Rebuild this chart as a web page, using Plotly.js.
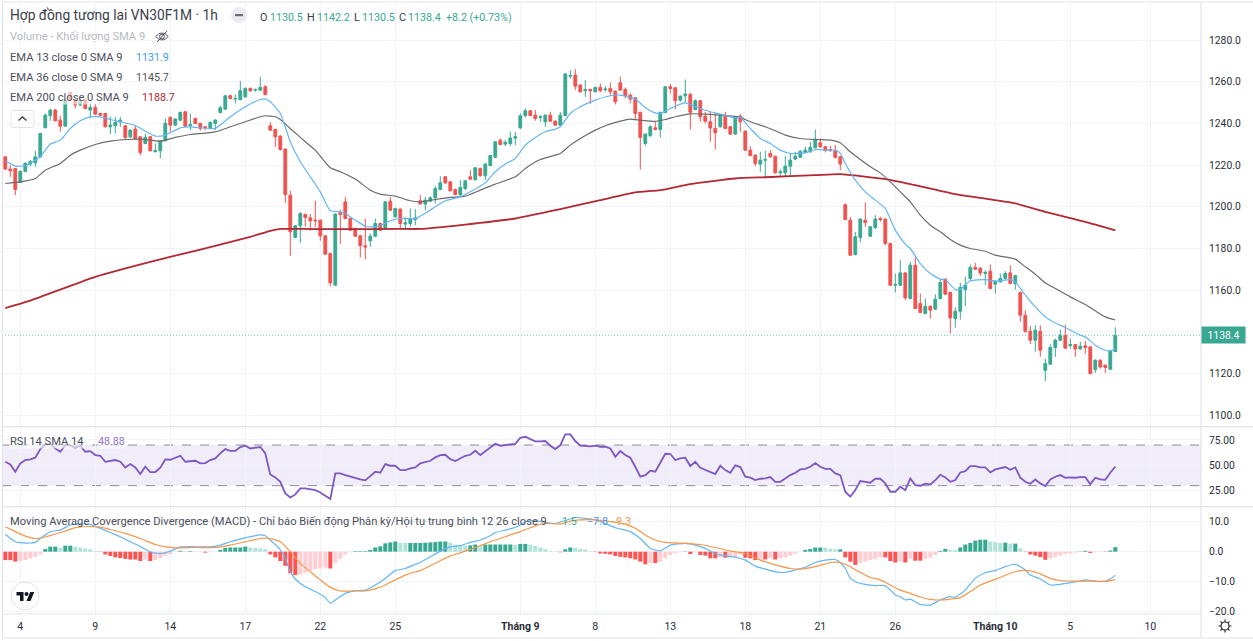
<!DOCTYPE html>
<html><head><meta charset="utf-8">
<script src="https://cdn.plot.ly/plotly-3.0.1.min.js"></script>
<style>html,body{margin:0;padding:0;background:#fff}#c{width:1253px;height:641px}</style>
</head><body><div id="c"></div>
<script>
const opens=[1224.0,1218.1,1218.4,1211.7,1217.0,1220.5,1221.1,1224.0,1237.9,1243.7,1246.4,1241.6,1238.7,1254.9,1251.5,1248.8,1251.5,1246.4,1247.7,1244.8,
1244.8,1238.4,1238.9,1240.8,1238.9,1233.6,1237.3,1233.6,1230.4,1233.6,1226.4,1226.9,1231.7,1242.9,1239.2,1241.6,1245.6,1239.0,1242.4,1240.0,
1238.4,1237.6,1240.0,1245.3,1246.9,1253.3,1251.7,1251.5,1252.8,1256.8,1256.0,1256.0,1257.6,1238.9,1237.1,1233.9,1227.7,1205.6,1185.3,1190.9,
1196.3,1194.7,1193.6,1193.6,1186.1,1177.6,1162.4,1197.1,1202.4,1194.4,1189.6,1186.1,1181.3,1183.7,1185.9,1192.0,1189.6,1202.7,1195.2,1198.9,
1191.7,1192.0,1193.9,1202.9,1201.3,1202.7,1204.3,1208.3,1214.4,1212.0,1208.3,1205.9,1208.8,1214.4,1213.1,1218.4,1214.9,1219.8,1223.8,1232.0,
1230.1,1230.4,1233.0,1237.9,1243.8,1246.1,1244.0,1242.9,1240.8,1244.0,1241.1,1239.2,1243.8,1262.7,1263.2,1258.4,1255.7,1256.3,1255.2,1257.3,
1256.2,1256.8,1255.5,1259.5,1256.3,1253.6,1252.3,1245.3,1230.4,1234.1,1237.9,1237.1,1245.3,1257.6,1257.1,1251.2,1253.3,1253.9,1246.7,1250.9,
1243.5,1240.8,1237.6,1238.4,1244.0,1238.4,1234.9,1243.5,1236.3,1227.2,1224.8,1220.5,1222.4,1225.6,1224.2,1216.3,1216.3,1219.5,1222.9,1223.8,
1226.2,1226.4,1228.3,1230.7,1228.8,1227.5,1226.9,1224.0,1201.0,1193.6,1177.1,1185.3,1193.6,1185.9,1190.1,1194.4,1194.1,1182.4,1162.4,1162.4,
1168.3,1156.0,1172.0,1153.6,1148.8,1152.3,1150.9,1156.0,1165.3,1158.9,1146.4,1149.9,1160.3,1165.6,1170.9,1170.4,1168.0,1169.1,1162.9,1164.0,
1165.6,1168.3,1163.2,1158.9,1148.0,1140.3,1136.0,1140.3,1121.6,1124.5,1132.5,1136.0,1138.4,1133.4,1133.9,1131.8,1133.3,1132.8,1121.9,1126.4,
1124.0,1122.1,1130.5];
const highs=[1224.0,1220.0,1218.4,1217.1,1221.5,1222.5,1226.9,1235.5,1244.8,1247.2,1247.0,1243.7,1252.0,1255.2,1251.8,1252.0,1252.0,1249.6,1249.3,1245.2,
1245.0,1243.2,1243.2,1243.2,1239.2,1237.2,1239.2,1234.0,1235.0,1234.0,1230.4,1232.0,1242.4,1243.5,1242.5,1245.7,1246.0,1244.8,1242.8,1240.4,
1238.8,1241.0,1242.1,1248.5,1253.7,1253.8,1253.9,1260.3,1257.3,1257.3,1256.8,1262.4,1258.4,1240.8,1237.5,1234.3,1228.0,1207.7,1191.3,1197.4,
1196.8,1196.5,1202.9,1194.0,1186.5,1178.0,1196.9,1198.7,1204.8,1194.8,1190.0,1186.5,1194.4,1187.2,1194.4,1192.4,1202.8,1204.8,1199.6,1199.3,
1195.2,1199.2,1198.9,1205.6,1204.8,1205.1,1210.1,1214.7,1214.8,1212.4,1208.7,1212.8,1212.9,1217.6,1219.1,1218.8,1220.9,1225.0,1231.6,1232.8,
1232.0,1236.0,1236.0,1244.8,1247.2,1246.5,1246.4,1244.0,1244.4,1245.6,1241.5,1245.6,1264.1,1265.6,1266.1,1258.8,1260.8,1256.7,1257.7,1259.2,
1257.9,1259.7,1255.9,1262.4,1257.3,1254.4,1252.7,1245.7,1235.3,1239.2,1240.8,1245.7,1258.0,1258.9,1257.5,1253.5,1261.1,1254.7,1251.5,1251.3,
1245.6,1245.6,1245.1,1244.4,1245.6,1238.8,1243.6,1244.5,1236.7,1229.1,1225.2,1226.4,1226.9,1227.2,1224.6,1217.9,1224.3,1225.6,1226.4,1227.2,
1228.8,1231.2,1237.1,1232.8,1229.2,1229.3,1229.6,1224.4,1201.6,1195.2,1188.0,1194.5,1202.1,1190.8,1196.0,1195.2,1194.5,1182.8,1168.0,1174.4,
1168.7,1173.6,1175.7,1158.4,1156.0,1152.7,1158.1,1165.3,1165.7,1159.3,1151.7,1163.5,1166.4,1172.3,1173.1,1171.2,1169.6,1172.3,1164.7,1168.0,
1169.1,1172.0,1167.4,1159.3,1150.4,1142.7,1143.2,1143.2,1127.2,1134.1,1136.8,1141.1,1143.5,1136.8,1134.3,1135.2,1135.7,1133.2,1126.8,1126.9,
1124.4,1131.3,1142.2];
const lows=[1217.6,1214.4,1205.6,1211.7,1216.5,1219.5,1219.2,1223.5,1237.9,1241.3,1241.0,1236.0,1238.5,1251.0,1247.2,1248.5,1246.8,1242.4,1244.0,1243.5,
1238.0,1234.9,1235.2,1238.4,1232.5,1233.0,1232.5,1224.8,1230.0,1226.5,1226.2,1223.2,1231.5,1236.0,1238.8,1241.0,1238.3,1236.8,1239.6,1236.5,
1236.8,1237.2,1236.8,1244.8,1246.5,1251.6,1249.6,1251.0,1252.4,1255.2,1255.2,1255.6,1253.5,1236.4,1228.8,1227.0,1201.9,1176.5,1184.9,1182.7,
1190.4,1188.5,1190.4,1183.7,1177.0,1161.9,1162.0,1182.1,1194.0,1188.4,1185.5,1175.7,1174.7,1180.8,1185.5,1188.4,1189.2,1198.0,1194.8,1189.6,
1188.8,1190.4,1191.2,1201.0,1198.4,1202.3,1201.6,1208.0,1211.1,1207.3,1205.5,1204.8,1208.0,1212.8,1212.5,1214.5,1212.8,1219.4,1223.4,1229.5,
1229.1,1229.1,1229.6,1237.3,1242.9,1243.4,1241.3,1240.8,1238.4,1240.7,1238.8,1238.8,1243.4,1261.6,1256.0,1254.8,1252.8,1249.3,1254.8,1254.9,
1255.2,1253.1,1249.1,1255.6,1252.0,1249.6,1242.1,1217.9,1229.3,1233.7,1236.7,1233.3,1244.9,1254.4,1246.9,1250.4,1249.9,1237.1,1246.3,1240.8,
1240.0,1231.2,1227.5,1238.0,1237.2,1234.5,1234.5,1236.0,1226.8,1224.2,1219.5,1216.8,1214.4,1223.6,1215.9,1214.4,1214.7,1214.4,1222.4,1223.4,
1225.8,1226.0,1228.0,1228.4,1226.1,1226.4,1223.2,1217.6,1193.5,1176.4,1176.7,1182.9,1190.4,1185.5,1189.3,1192.8,1181.6,1162.0,1158.9,1162.0,
1155.2,1155.6,1150.8,1148.9,1148.4,1146.4,1150.5,1155.6,1157.6,1139.2,1142.1,1145.9,1152.3,1164.5,1169.7,1166.9,1162.4,1160.4,1158.4,1163.6,
1165.2,1162.8,1160.3,1144.8,1139.5,1134.1,1130.4,1128.0,1116.5,1124.1,1128.0,1135.6,1131.8,1132.0,1128.0,1131.4,1129.6,1119.6,1120.3,1122.4,
1120.3,1121.7,1130.5];
const closes=[1218.1,1217.3,1208.3,1217.1,1220.8,1221.8,1224.0,1235.2,1244.0,1246.4,1241.3,1238.7,1251.2,1251.5,1248.8,1251.2,1247.2,1247.7,1244.5,1244.0,
1238.4,1239.2,1240.5,1241.6,1233.3,1236.8,1232.8,1226.1,1233.3,1226.9,1227.0,1231.7,1240.0,1239.2,1242.1,1245.3,1238.7,1239.5,1240.0,1237.6,
1237.9,1240.5,1241.6,1247.5,1253.3,1252.0,1252.0,1255.7,1256.8,1255.7,1256.3,1257.3,1253.9,1236.8,1233.6,1227.5,1205.9,1188.0,1190.9,1196.8,
1194.9,1193.3,1193.3,1186.1,1177.3,1163.5,1196.5,1196.3,1194.4,1188.8,1185.9,1181.3,1180.8,1185.9,1192.0,1188.8,1202.4,1198.4,1199.2,1192.0,
1192.3,1194.1,1194.7,1201.4,1203.2,1204.3,1208.8,1211.5,1211.5,1207.7,1205.9,1209.3,1212.5,1213.3,1218.7,1214.9,1220.5,1224.6,1231.2,1229.9,
1231.0,1233.0,1233.6,1243.7,1246.1,1243.8,1242.4,1243.2,1244.0,1241.1,1239.2,1244.0,1263.7,1263.0,1257.9,1255.2,1256.3,1255.7,1257.3,1255.7,
1256.5,1255.2,1250.4,1256.0,1253.3,1251.7,1244.8,1233.3,1234.9,1238.4,1237.1,1245.3,1257.6,1256.8,1250.9,1253.1,1254.1,1245.4,1250.9,1243.2,
1241.1,1237.8,1235.5,1244.0,1237.6,1234.9,1243.2,1240.8,1227.2,1224.6,1220.8,1222.4,1222.7,1224.0,1216.3,1216.8,1219.5,1222.4,1224.3,1226.6,
1227.2,1228.5,1232.5,1228.8,1227.2,1227.0,1223.7,1220.5,1193.9,1176.8,1185.6,1194.1,1192.5,1190.4,1194.1,1193.9,1182.4,1162.4,1162.7,1168.3,
1156.3,1172.0,1151.2,1149.3,1152.3,1150.4,1155.7,1163.7,1158.1,1146.7,1149.9,1161.3,1162.4,1170.9,1170.1,1168.3,1168.5,1160.8,1164.3,1165.6,
1168.0,1163.2,1167.0,1148.0,1140.3,1136.0,1140.8,1131.2,1124.8,1132.5,1136.0,1138.4,1132.2,1133.9,1131.8,1133.1,1132.5,1120.0,1126.4,1123.2,
1122.9,1130.9,1138.4];

const ema13Bars=[0,1,2,4,6,7,9,11,13,15,17,19,21,23,26,28,30,31,32,35,37,42,45,49,51,52,53,55,57,59,61,63,65,67,68,70,72,73,75,77,79,82,85,87,88,91,93,96,98,100,102,104,106,108,110,111,113,115,118,121,123,125,126,128,130,131,133,136,138,141,143,146,147,149,151,153,155,157,160,162,164,166,167,168,170,172,174,176,178,180,181,183,185,187,188,190,191,193,196,198,201,202,204,206,208,210,212,215,216,218,220,221,222];
const ema13=[1221.9,1220.8,1219.5,1219.7,1222.4,1224,1230.1,1232,1237.6,1241.3,1243.2,1243.2,1241.9,1240.8,1239,1236.3,1234,1233.9,1234.4,1237.9,1238.4,1237.6,1243.2,1249.3,1251.5,1251.8,1250.4,1244.8,1231.2,1221.6,1214.4,1207.2,1198.1,1197.6,1196.8,1193.6,1190.7,1190.4,1191,1193.3,1194.4,1194.4,1198.4,1201.6,1202.9,1204.8,1207.2,1211.5,1216.8,1220.5,1223.2,1229.6,1233.3,1236,1237.3,1238.4,1244.8,1248,1251.2,1253.3,1253.6,1252.5,1251.7,1247.7,1245.1,1244.8,1247.2,1249.9,1248,1245.6,1244.5,1242.7,1242.9,1237.6,1232.8,1230.4,1227.2,1225.6,1225.9,1227.5,1227.2,1227.2,1225.6,1220.8,1212.8,1207.2,1203.2,1199.2,1188.8,1182.1,1180,1172.8,1168,1165.3,1165.1,1160.3,1160.5,1164.5,1165.1,1164.3,1165.1,1164,1157.6,1152,1147.2,1144.3,1142.1,1138.4,1137.6,1133.6,1131.2,1130.9,1131.9];

const ema36Bars=[0,3,6,8,11,13,15,18,21,24,27,31,34,37,42,45,48,51,52,54,55,57,60,62,65,67,70,73,75,78,81,83,86,89,92,95,98,102,104,107,110,111,113,115,118,120,123,125,127,130,132,134,137,140,143,147,149,152,154,156,159,162,165,167,169,171,173,175,177,179,181,183,185,187,189,191,193,196,198,202,204,206,208,210,213,216,218,220,222];
const ema36=[1211.2,1212,1213.6,1217.6,1220.8,1224.8,1227.2,1229.9,1231.5,1232.3,1232.5,1231.5,1233.3,1234.7,1236,1238.4,1240.8,1243.2,1243.7,1243.2,1241.9,1237.6,1231.2,1227.2,1218.7,1216.8,1213.3,1208,1206.1,1205.1,1202.9,1202.4,1203.5,1204.5,1205.1,1208,1210.9,1214.4,1218.4,1222.7,1224.8,1225.6,1229.6,1232.8,1236.8,1238.9,1241.1,1242.1,1241.6,1241,1241.9,1243.2,1244.6,1244.5,1244,1242.9,1240.8,1238.4,1236.5,1234.4,1232.8,1232.3,1232,1230.7,1226.4,1222.7,1219.2,1216.3,1212,1207.2,1202.4,1196,1191.2,1188,1184.3,1181.6,1180,1178.7,1176.8,1174.9,1171.2,1167.7,1163.5,1160.8,1156.8,1153.1,1150.1,1147.2,1145.7];

const ema200Bars=[0,5,18,29,39,49,53,55,59,66,79,83,92,102,111,119,126,131,137,146,152,162,167,176,181,190,202,208,216,222];
const ema200=[1151.4,1155,1166.4,1173.6,1179.5,1185.6,1188.5,1189.4,1189.4,1189.3,1189.4,1189.4,1191.5,1194.4,1198.9,1203.2,1206.9,1208,1210.9,1213.6,1214.2,1215.2,1215.7,1213.3,1210.9,1206.1,1201.6,1197.6,1192.8,1188.7];

const rsi=[53.5,50.9,43.7,51.9,55.2,55.8,57.5,66,70.6,70.6,66.6,63.4,69.9,69.9,67.3,69.3,63.4,64,60.1,59.4,53.5,54.2,55.2,53.5,47.9,51.2,47.9,41.4,48.6,43.4,43.4,47.6,55.8,55.5,57.5,59.4,53.5,54.2,54.5,51.9,52.2,55.2,56.8,61.7,66,64.3,64.3,68,69.3,66.6,67.3,68,61.7,41,38.1,33.8,22.4,18.4,21.4,27.3,27.3,26.6,25.6,23.3,20.1,16.8,42,42,40.4,38.8,37.8,36.1,35.2,39.7,43.7,42.7,51.2,49.6,49.6,45.3,45.3,47,47.9,
51.9,53.5,54.5,57.8,60.1,60.4,56.1,54.2,56.8,59.4,60.4,64.3,60.1,64,67.3,71.2,69.3,69.9,70.9,71.2,77.1,78.1,75.8,73.5,73.5,73.9,69.3,66,69.9,80.4,80.4,73.9,69.3,68.9,68.6,69.3,68.3,68.3,66.6,58.4,64,60.1,57.5,48.6,38.8,40.4,44.7,43.7,52.5,61.4,61.1,55.2,56.8,57.5,49.3,53.5,47.6,45.3,43.7,41.4,49.6,45.3,42.7,49.9,48.3,38.8,37.8,35.5,36.8,37.1,38.4,33.8,33.8,37.1,40.4,42.7,46,46.6,48.6,52.2,48.6,46.6,46.6,42,
40.4,24,19.1,25.6,34.5,33.8,32.9,36.8,36.8,32.2,24,24,28.9,25.6,37.1,30.6,29.9,31.9,31.2,35.5,40.7,38.1,33.8,35.5,43,44.3,49.3,49.3,47.9,47.9,43,46,47,48.3,45.6,47.9,37.8,33.8,31.9,36.1,32.2,29.6,36.1,38.8,40.4,37.8,38.1,37.8,38.4,38.4,31.5,37.8,36.1,35.8,42.7,48.88];

const macdHist=[-2.8,-2.8,-3.3,-3,-2.8,-2.3,-1.7,-0.9,0.9,1.7,1.7,1.3,2,2,1.7,1.4,1.1,0.8,0.2,-0.1,-0.9,-1.4,-1.9,-2.1,-2.4,-2.6,-2.6,-3.1,-2.6,-3.1,-2.8,-2.2,-1.4,-0.8,-0.1,0.3,0.2,0.2,0.1,0,-0.3,-0.2,0,0.6,1.3,1.4,1.4,1.4,1.7,1.4,1.3,1.1,0.9,-0.9,-1.9,-3.1,-4.7,-7.2,-7.8,-7.6,-7,-6.4,-5.8,-5.6,-5.3,-5.6,-3.7,-2.4,-0.9,-0.2,0.2,0.2,0.2,0.6,1.4,1.8,2.8,3.1,3.4,3,2.9,2.9,2.9,
2.9,3,3.1,3.2,3.4,3.4,3,2.4,2.2,2,2.1,2.4,2,2.4,2.4,2.4,2.4,2.4,2.4,2.3,2.6,2.6,2.4,1.9,1.4,0.9,0.3,0.1,-0.2,0.8,1.4,1.3,0.9,0.7,0.2,-0.1,-0.6,-0.7,-0.9,-1.4,-1.7,-1.9,-2.2,-2.6,-3.3,-4.2,-3.8,-3.8,-3.3,-2.2,-1.1,-0.4,-0.2,0.1,-0.8,-0.2,-1.1,-1.3,-2.2,-2.2,-1.7,-2,-1.9,-1.8,-0.9,-2,-2.2,-2.8,-2.6,-2.6,-2.2,-2.6,-2.2,-1.9,-1.3,-0.6,0,0.6,0.9,1.4,1.4,1.3,1,0.8,
0.8,-1.9,-3.3,-4.4,-3.7,-3.3,-2.8,-2.4,-1.9,-1.9,-3.1,-3.6,-3.3,-3.6,-2.4,-3,-3,-2.4,-2,-1.1,0.3,0.9,0.7,0.6,1.4,2.4,2.9,3.7,4,4,3.4,3.2,3,3,2.7,2.7,1.2,-0.1,-0.9,-1.3,-1.8,-2.7,-2.2,-1.8,-1.3,-0.8,-0.6,-0.3,0.1,0.3,-0.4,-0.2,-0.1,-0.1,0.4,1.5];

const macdBars=[0,1,2,3,5,6,7,9,11,13,15,17,19,21,23,25,27,29,31,33,35,37,41,43,45,47,49,51,52,53,55,56,57,58,60,62,64,65,66,68,70,72,74,76,78,80,82,83,85,87,89,91,93,95,97,98,100,102,103,104,106,108,110,114,116,118,120,122,124,125,127,129,131,133,136,138,140,142,144,146,148,150,152,154,156,158,160,162,164,166,167,168,169,170,172,174,176,178,179,180,181,183,185,187,189,190,192,194,196,198,200,202,204,205,207,209,211,213,215,216,218,220,221,222];
const macdLine=[5.8,4.4,3.3,3,2.9,3.1,4.4,6.7,7.2,8.9,9.3,9.1,7.8,6.4,5,3.3,1.7,-0.1,-0.6,0.2,1.6,1.7,1.6,2.2,3.3,4.2,5,5.6,5.3,3.9,0.6,-2.2,-6.7,-9.1,-11.7,-13.3,-15.3,-17.2,-16.1,-13.9,-13,-12.8,-11.1,-8.9,-6.3,-5.6,-4.2,-3.6,-1.7,0.2,1.6,2,3.1,3.9,5.3,6.4,7.2,8.1,8.9,10,10.3,9.8,9.4,11.4,11.1,10.6,9.4,8,7.2,6.7,4.4,1.1,0.3,2.2,2.8,2.2,1.1,-0.6,-1.4,-1.8,-2.8,-4.8,-5.8,-6.7,-6.9,-6.1,-5.2,-3.6,-2.8,-2.6,-3.6,-5.6,-8.9,-10,-10.9,-11.3,-11.3,-14.4,-15,-16.1,-15.8,-17.6,-17.8,-16.1,-15,-15.2,-12.8,-8.9,-7,-6.3,-5,-4.2,-6.1,-7.8,-9.1,-11.1,-10.9,-10.3,-9.8,-9.4,-9.9,-9.8,-9.1,-7.8];

const signalBars=[0,2,4,6,8,10,12,14,17,19,21,24,27,30,32,34,38,42,45,48,51,53,55,57,59,61,63,65,67,70,72,74,76,78,80,82,83,85,87,89,91,93,95,97,99,101,103,105,107,109,111,113,115,118,121,124,126,128,130,132,136,139,142,145,148,151,154,157,159,162,165,167,169,171,173,175,177,179,181,183,185,187,189,191,193,195,197,199,201,203,205,207,209,211,214,217,220,222];
const signalLine=[8.3,6.7,5.2,4.4,4.9,5.9,6.9,8,8.4,8.2,7.4,6.1,4.4,2.4,1.6,1.3,1.4,1.4,2.2,3.3,4.4,4.4,3.3,0,-3.9,-6.7,-9.4,-11.9,-13.1,-13.1,-13.1,-12.4,-11.1,-9.4,-7.8,-6.7,-6.3,-4.7,-3,-1.4,-0.4,0.8,2,3.3,4.4,5.6,6.7,8,9.2,9.4,9.2,10.2,10.6,10.6,10,9.2,7.8,5.6,3.9,3.1,2.8,2.4,1.4,0.2,-0.6,-2.8,-4.4,-5.6,-5.8,-5,-3.6,-3.6,-5,-6.9,-8.6,-9.4,-11.1,-12.8,-13.9,-15.1,-15.9,-16.1,-15.8,-15.3,-13.3,-11.1,-9.8,-8.6,-7.2,-6.3,-6.4,-7.4,-8.9,-9.6,-9.8,-9.8,-9.9,-9.3];

const priceTicks=[1100,1120,1140,1160,1180,1200,1220,1240,1260,1280];
const rsiTicks=[25,50,75];
const macdTicks=[-20,-10,0,10];
const timeTicks=[3,18,33,48,63,78,103,118,133,148,163,178,198,213,229];
const timeLabels=['4','9','14','17','22','25','<b>Tháng 9</b>','8','13','18','21','26','<b>Tháng 10</b>','5','10'];
const lastClose=1138.4;

const bars=opens.map((_,i)=>i);
const W=1253,H=641,L=2,R=52,T=3,B=27,PW=W-L-R,PH=H-T-B;
const px=x=>(x-L)/PW, py=y=>(H-B-y)/PH;
const GREEN='#38a892',RED='#ef5350',TXT='#2a2e39',GRID='#f0f3fa',BORDER='#e0e3eb';
const FONT='Roboto, Arial, sans-serif';

const histColor=macdHist.map((v,i)=>{const p=i?macdHist[i-1]:v;
  return v>=0?(v>=p?'#38a892':'#b2e3d8'):(v<=p?'#ff5252':'#ffcdd2');});

const smooth=(color,width)=>({color:color,width:width,shape:'spline',smoothing:0.5});
const traces=[
 {type:'candlestick',x:bars,open:opens,high:highs,low:lows,close:closes,xaxis:'x',yaxis:'y',whiskerwidth:0,
  increasing:{line:{color:GREEN,width:1},fillcolor:GREEN},decreasing:{line:{color:RED,width:1},fillcolor:RED},hoverinfo:'skip'},
 {type:'scatter',mode:'lines',x:ema200Bars,y:ema200,xaxis:'x',yaxis:'y',line:smooth('#b22833',1.8),hoverinfo:'skip'},
 {type:'scatter',mode:'lines',x:ema36Bars,y:ema36,xaxis:'x',yaxis:'y',line:smooth('#6b6b6b',1.2),hoverinfo:'skip'},
 {type:'scatter',mode:'lines',x:ema13Bars,y:ema13,xaxis:'x',yaxis:'y',line:smooth('#64b5f6',1.2),hoverinfo:'skip'},
 {type:'scatter',mode:'lines',x:bars,y:rsi,xaxis:'x',yaxis:'y2',line:{color:'#7e57c2',width:1.8},hoverinfo:'skip'},
 {type:'bar',x:bars,y:macdHist,xaxis:'x',yaxis:'y3',marker:{color:histColor,line:{width:0}},hoverinfo:'skip'},
 {type:'scatter',mode:'lines',x:macdBars,y:macdLine,xaxis:'x',yaxis:'y3',line:smooth('#64b5f6',1.2),hoverinfo:'skip'},
 {type:'scatter',mode:'lines',x:signalBars,y:signalLine,xaxis:'x',yaxis:'y3',line:smooth('#f7964a',1.2),hoverinfo:'skip'}
];

function label(x,y,text,size,color,bg){return {xref:'paper',yref:'paper',x:px(x-1),y:py(y),xanchor:'left',yanchor:'middle',
  text:text,showarrow:false,align:'left',borderpad:0,font:{family:FONT,size:size,color:color},bgcolor:bg||'rgba(0,0,0,0)'};}
const fade='rgba(255,255,255,0.6)';
const LEG='#4a4e5a',VAL=10.7,TSZ=11.15;

const annotations=[
 label(10,15,'Hợp đồng tương lai VN30F1M · 1h',13.75,'#3a3e4a'),
 label(260,17,'O',10.8,'#3a3e4a'),label(270,17,'1130.5',VAL,GREEN),
 label(307,17,'H',10.8,'#3a3e4a'),label(317,17,'1142.2',VAL,GREEN),
 label(354,17,'L',10.8,'#3a3e4a'),label(362,17,'1130.5',VAL,GREEN),
 label(399,17,'C',10.8,'#3a3e4a'),label(408,17,'1138.4',VAL,GREEN),
 label(446,17,'+8.2 (+0.73%)',VAL,GREEN),
 label(10,36.5,'Volume - Khối lượng SMA 9',TSZ,'#b7bac3',fade),
 label(10,57.5,'EMA 13 close 0 SMA 9',TSZ,LEG,fade),label(136,57.5,'1131.9',VAL,'#3f9bf0'),
 label(10,78,'EMA 36 close 0 SMA 9',TSZ,LEG,fade),label(136,78,'1145.7',VAL,'#555'),
 label(10,98,'EMA 200 close 0 SMA 9',TSZ,LEG,fade),label(142,98,'1188.7',VAL,'#b22833',fade),
 label(10,441,'RSI 14 SMA 14',TSZ,LEG,fade),label(98,441,'48.88',VAL,'#9575cd',fade),
 label(10,521,'Moving Average Covergence Divergence (MACD) - Chỉ báo Biến động Phân kỳ/Hội tụ trung bình 12 26 close 9',TSZ,LEG),
 label(562,521,'1.5',VAL,GREEN),label(587,521,'−7.8',VAL,'#3f9bf0'),label(610,521,'−9.3',VAL,'#f7964a'),
 {xref:'paper',yref:'y',x:px(1223.5),y:lastClose,xanchor:'center',yanchor:'middle',text:lastClose.toFixed(1),showarrow:false,
  font:{family:FONT,size:10.3,color:'#fff'},bgcolor:GREEN,width:43,height:16,borderpad:0}
];

const pline=(x0,y0,x1,y1,col)=>({type:'line',xref:'paper',yref:'paper',x0:px(x0),y0:py(y0),x1:px(x1),y1:py(y1),line:{color:col||BORDER,width:1.2},layer:'above'});
const shapes=[
 {type:'rect',xref:'paper',yref:'y2',x0:0,x1:1,y0:30,y1:70,fillcolor:'rgba(126,87,194,0.11)',line:{width:0},layer:'below'},
 {type:'line',xref:'paper',yref:'y2',x0:0,x1:1,y0:70,y1:70,line:{color:'#8a8d98',width:1,dash:'dash'},layer:'below'},
 {type:'line',xref:'paper',yref:'y2',x0:0,x1:1,y0:30,y1:30,line:{color:'#8a8d98',width:1,dash:'dash'},layer:'below'},
 {type:'line',xref:'paper',yref:'y',x0:0,x1:1,y0:lastClose,y1:lastClose,line:{color:'#6cc0ae',width:1,dash:'1px,2px'},layer:'above'},
 pline(2.3,2,2.3,638),pline(2,2,1253,2),pline(2,638,1253,638),pline(1201,2,1201,638),
 pline(2,426.7,1253,426.7),pline(2,506.7,1253,506.7),pline(2,614,1201,614)
];

const svg=s=>'data:image/svg+xml;utf8,'+encodeURIComponent(s);
function icon(x,y,w,h,s){return {source:svg(`<svg xmlns="http://www.w3.org/2000/svg" width="${w}" height="${h}" viewBox="0 0 ${w} ${h}">${s}</svg>`),
  xref:'paper',yref:'paper',x:px(x),y:py(y),sizex:w/PW,sizey:h/PH,xanchor:'left',yanchor:'top',sizing:'stretch',layer:'above'};}
const images=[
 icon(231,7,16,16,'<circle cx="8" cy="8" r="8" fill="#e9ebf0"/><rect x="4" y="7" width="8" height="2.2" fill="#6a6d78"/>'),
 icon(155,30,14,13,'<path d="M1 6.5C4 2 10 2 13 6.5C10 11 4 11 1 6.5Z" fill="none" stroke="#50535e" stroke-width="1"/><circle cx="7" cy="6.5" r="2.4" fill="none" stroke="#50535e"/><path d="M2 12L12 1" stroke="#50535e"/>'),
 icon(10.5,110,24,18,'<rect x="0.5" y="0.5" width="23" height="17" rx="3" fill="#fff" stroke="#dfe1e8"/><path d="M8 10.5L12 7L16 10.5" fill="none" stroke="#40434d" stroke-width="1.4"/>'),
 icon(10,581,30,30,'<circle cx="15" cy="15" r="14" fill="#fff" stroke="#e0e3eb"/><g transform="translate(6.5,9) scale(0.5)"><path d="M14 22H7V11H0V4h14v18zM28 22h-8l7.5-18h8L28 22z" fill="#131722"/><circle cx="20" cy="8" r="4" fill="#131722"/></g>'),
 icon(1218,619,14,14,'<circle cx="7" cy="7" r="4" fill="none" stroke="#2a2e39" stroke-width="1.2"/><path d="M7 0.5V3M7 11V13.5M0.5 7H3M11 7H13.5M2.4 2.4L4.2 4.2M9.8 9.8L11.6 11.6M2.4 11.6L4.2 9.8M9.8 4.2L11.6 2.4" stroke="#2a2e39" stroke-width="1.2"/>')
];

const yCommon={side:'right',anchor:'x',gridcolor:GRID,gridwidth:1,zeroline:false,showline:false,ticks:'outside',ticklen:5,tickcolor:'rgba(0,0,0,0)',
  tickfont:{family:FONT,size:10.3,color:TXT},fixedrange:true,tickmode:'array'};
const layout={
 width:W,height:H,margin:{l:L,r:R,t:T,b:B,pad:0},paper_bgcolor:'#fff',plot_bgcolor:'#fff',showlegend:false,dragmode:false,hovermode:false,bargap:0.2,boxgap:0.2,
 xaxis:{domain:[0,1],anchor:'y3',range:[-0.66,239.14],tickmode:'array',tickvals:timeTicks,ticktext:timeLabels,gridcolor:GRID,gridwidth:1,zeroline:false,showline:false,
  rangeslider:{visible:false},ticks:'outside',ticklen:2,tickcolor:'rgba(0,0,0,0)',tickfont:{family:FONT,size:10.5,color:TXT},tickangle:0,fixedrange:true},
 yaxis:Object.assign({},yCommon,{domain:[py(426.7),1],range:[1094.5,1297.8],tickvals:priceTicks,ticktext:priceTicks.map(v=>v===1140?'':v.toFixed(1))}),
 yaxis2:Object.assign({},yCommon,{domain:[py(506.7),py(426.7)],range:[9.3,88],tickvals:rsiTicks,ticktext:rsiTicks.map(v=>v.toFixed(2))}),
 yaxis3:Object.assign({},yCommon,{domain:[0,py(506.7)],range:[-20.77,15],tickvals:macdTicks,ticktext:macdTicks.map(v=>(v<0?'−':'')+Math.abs(v).toFixed(1))}),
 annotations:annotations,shapes:shapes,images:images
};
Plotly.newPlot('c',traces,layout,{displayModeBar:false,staticPlot:true});
</script></body></html>
